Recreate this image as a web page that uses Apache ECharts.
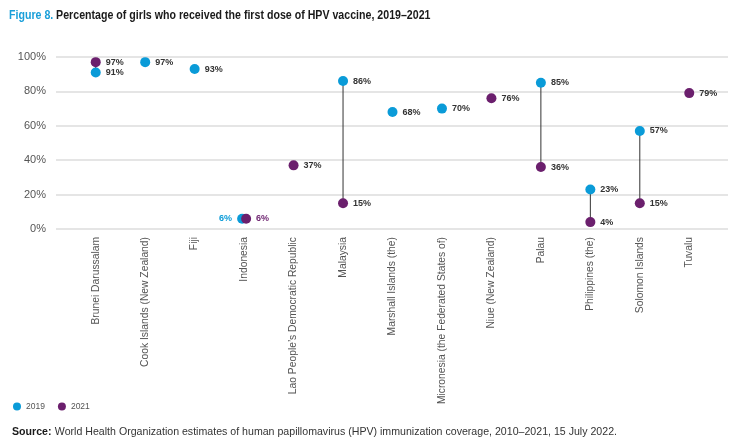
<!DOCTYPE html>
<html>
<head>
<meta charset="utf-8">
<script src="https://cdn.jsdelivr.net/npm/echarts@6/dist/echarts.min.js"></script>
<style>
  html, body { margin: 0; padding: 0; background: #fff; }
  #chart { width: 743px; height: 438px; }
</style>
</head>
<body>
<div id="chart"></div>
<script>
var countries = ['Brunei Darussalam', 'Cook Islands (New Zealand)', 'Fiji', 'Indonesia',
  'Lao People\u2019s Democratic Republic', 'Malaysia', 'Marshall Islands (the)',
  'Micronesia (the Federated States of)', 'Niue (New Zealand)', 'Palau',
  'Philippines (the)', 'Solomon Islands', 'Tuvalu']
var y2019 = [91, 97, 93, 6, null, 86, 68, 70, null, 85, 23, 57, null]
var y2021 = [97, null, null, 6, 37, 15, null, null, 76, 36, 4, 15, 79]
var yTicks = [0, 20, 40, 60, 80, 100]

var blue = '#0a9bd8'
var purple = '#6b1f6d'
var font = 'Liberation Sans, Arial, sans-serif'

// vertical connectors where both years exist
var links = []
countries.forEach(function (c, i) {
  if (y2019[i] != null && y2021[i] != null) links.push([i, y2019[i], y2021[i]])
})

function pointData (vals, color, side) {
  return vals.map(function (v, i) {
    if (v == null) return null
    // Indonesia: both dots at 6%, labels split left / right in series colour
    if (countries[i] === 'Indonesia') {
      return {
        value: v,
        symbolOffset: [side === 'left' ? -2 : 2, 0],
        label: { position: side, color: color }
      }
    }
    return v
  })
}

var chart = echarts.init(document.getElementById('chart'))
chart.setOption({
  animation: false,
  textStyle: { fontFamily: font },
  graphic: [
    {
      type: 'text',
      x: 9,
      y: 16,
      scaleX: 0.85,
      style: {
        text: '{a|Figure 8.} {b|Percentage of girls who received the first dose of HPV vaccine, 2019\u20132021}',
        verticalAlign: 'middle',
        rich: {
          a: { fontFamily: font, fontWeight: 'bold', fontSize: 12.5, fill: '#1a9fd9' },
          b: { fontFamily: font, fontWeight: 'bold', fontSize: 12.5, fill: '#1a1a1a' }
        }
      }
    },
    {
      type: 'text',
      x: 12,
      y: 432,
      scaleX: 1.01,
      style: {
        text: '{a|Source:} {b|World Health Organization estimates of human papillomavirus (HPV) immunization coverage, 2010\u20132021, 15 July 2022.}',
        verticalAlign: 'middle',
        rich: {
          a: { fontFamily: font, fontWeight: 'bold', fontSize: 10.5, fill: '#1a1a1a' },
          b: { fontFamily: font, fontSize: 10.5, fill: '#333' }
        }
      }
    }
  ],
  legend: {
    left: 8,
    top: 397,
    icon: 'circle',
    itemWidth: 8,
    itemHeight: 8,
    itemGap: 13,
    textStyle: { fontSize: 8.5, color: '#555' },
    data: ['2019', '2021']
  },
  grid: [
    { left: 56, right: 15, top: 57, bottom: 209 },
    { left: 71, right: 29, top: 57, bottom: 209 }
  ],
  xAxis: [
    { type: 'category', gridIndex: 0, show: false, data: countries },
    {
      type: 'category',
      gridIndex: 1,
      data: countries,
      axisLine: { show: false },
      axisTick: { show: false },
      axisLabel: { rotate: 90, margin: 8, fontSize: 10.3, color: '#555', interval: 0 }
    }
  ],
  yAxis: [
    {
      type: 'value',
      gridIndex: 0,
      min: yTicks[0],
      max: yTicks[yTicks.length - 1],
      interval: 20,
      axisLine: { show: false },
      axisTick: { show: false },
      axisLabel: { formatter: '{value}%', fontSize: 11, color: '#555', margin: 10 },
      splitLine: { lineStyle: { color: '#dcdcdc', width: 1.5 } }
    },
    { type: 'value', gridIndex: 1, min: 0, max: 100, show: false }
  ],
  series: [
    {
      type: 'custom',
      xAxisIndex: 1,
      yAxisIndex: 1,
      z: 1,
      silent: true,
      data: links,
      renderItem: function (params, api) {
        var a = api.coord([api.value(0), api.value(1)])
        var b = api.coord([api.value(0), api.value(2)])
        return {
          type: 'line',
          shape: { x1: a[0], y1: a[1], x2: b[0], y2: b[1] },
          style: { stroke: '#333', lineWidth: 1 }
        }
      }
    },
    {
      name: '2019',
      type: 'scatter',
      xAxisIndex: 1,
      yAxisIndex: 1,
      z: 3,
      symbolSize: 10,
      itemStyle: { color: blue, opacity: 1 },
      label: { show: true, position: 'right', distance: 5, formatter: '{c}%', fontSize: 9, fontWeight: 'bold', color: '#333' },
      data: pointData(y2019, blue, 'left')
    },
    {
      name: '2021',
      type: 'scatter',
      xAxisIndex: 1,
      yAxisIndex: 1,
      z: 4,
      symbolSize: 10,
      itemStyle: { color: purple, opacity: 1 },
      label: { show: true, position: 'right', distance: 5, formatter: '{c}%', fontSize: 9, fontWeight: 'bold', color: '#333' },
      data: pointData(y2021, purple, 'right')
    }
  ]
})
</script>
</body>
</html>
